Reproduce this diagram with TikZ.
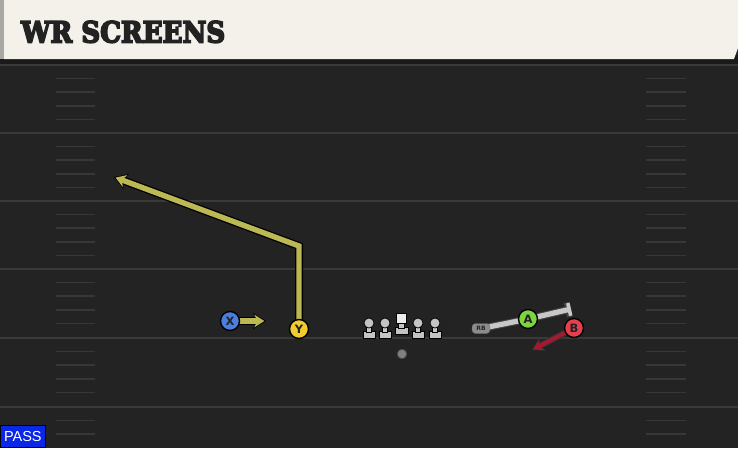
\documentclass[tikz,border=0pt]{standalone}
\usepackage{fontspec}
\setmainfont{DejaVu Sans}
\newfontfamily\titlefont[FakeBold=6]{DejaVu Serif}
\newfontfamily\passfont{Liberation Sans}
\usetikzlibrary{arrows.meta,calc}
\definecolor{fieldbg}{HTML}{232323}
\definecolor{headdark}{HTML}{1A1A1A}
\definecolor{cream}{HTML}{F4F1EA}
\definecolor{stripgray}{HTML}{A8A8A4}
\definecolor{titleink}{HTML}{222222}
\definecolor{linegray}{HTML}{3A3A3A}
\definecolor{hashgray}{HTML}{373737}
\definecolor{xblue}{HTML}{4C7EE0}
\definecolor{yyellow}{HTML}{F2CB2E}
\definecolor{agreen}{HTML}{7CD43F}
\definecolor{bred}{HTML}{E5404E}
\definecolor{routeolive}{HTML}{BCB853}
\definecolor{rbline}{HTML}{C8C8C8}
\definecolor{bdark}{HTML}{A01A30}
\definecolor{olgray}{HTML}{C4C4C4}
\definecolor{passblue}{HTML}{0A26E6}
\pgfdeclarelayer{field}
\pgfdeclarelayer{routes}
\pgfsetlayers{field,routes,main}
\begin{document}
\begin{tikzpicture}[x=1pt,y=-1pt,
  fieldline/.style={draw=linegray,line width=2.4pt},
  hashmark/.style={draw=hashgray,line width=1.6pt},
  player/.style={circle,draw=black,line width=1.4pt,minimum size=19pt,inner sep=0pt,
    font=\bfseries\fontsize{11.5}{11.5}\selectfont,text=titleink},
  routeout/.style={draw=black,line width=8pt,line join=miter},
  routein/.style={draw=routeolive,line width=5.4pt,line join=miter},
  olhead/.style={fill=olgray,draw=black,line width=0.7pt},
  olbody/.style={fill=olgray,draw=black,line width=0.7pt},
  rbtag/.style={draw=black!60,fill=black!45,rounded corners=3.5pt,minimum width=18pt,minimum height=10pt,
    inner sep=0pt,font=\bfseries\fontsize{6}{6}\selectfont,text=black!85}]
\useasboundingbox (0,0) rectangle (738,448);
\begin{pgfonlayer}{field}
\fill[fieldbg] (0,0) rectangle (738,448);
\fill[headdark] (0,55) rectangle (738,64);
\foreach \yy in {65,133,201,269,338,407} {\draw[fieldline] (0,\yy) -- (738,\yy);}
\foreach \yy in {65,133,201,269,338} {
  \foreach \k in {1,2,3,4} {
    \draw[hashmark] (56,\yy+\k*13.6) -- (95,\yy+\k*13.6);
    \draw[hashmark] (646,\yy+\k*13.6) -- (686,\yy+\k*13.6);
  }
}
\foreach \k in {1,2} {
  \draw[hashmark] (56,407+\k*13.6) -- (95,407+\k*13.6);
  \draw[hashmark] (646,407+\k*13.6) -- (686,407+\k*13.6);
}
\fill[cream] (4,0) -- (738,0) -- (738,48) -- (734,59) -- (4,59) -- cycle;
\fill[stripgray] (0,0) rectangle (4,59);
\end{pgfonlayer}

\node[anchor=south west,inner sep=0pt,text=titleink] (title) at (21,43)
  {\resizebox{204pt}{21.5pt}{\titlefont\bfseries WR SCREENS}};

% players
\node[player,fill=xblue] (X) at (230,321) {X};
\node[player,fill=yyellow] (Y) at (299,329) {Y};
\node[player,fill=agreen] (A) at (528,319) {A};
\node[player,fill=bred] (B) at (574,328) {B};
\node[rbtag] (RB) at (481,328.5) {RB};
\node[circle,fill=black!50!white,draw=black!70,line width=0.8pt,minimum size=9.5pt,inner sep=0pt] (QB) at (402,354) {};

\coordinate (Xend) at (266,321);
\coordinate (Ybreak) at (299,246);
\coordinate (Yend) at (114,177);
\coordinate (Aend) at (571,309);
\coordinate (Bend) at (532,350);

\begin{pgfonlayer}{routes}
\draw[routeout,-{Stealth[length=13pt,width=16pt,inset=4pt]}] (X.center) -- (Xend);
\draw[routein,-{Stealth[length=10pt,width=12.5pt,inset=3pt]}] (X.center) -- ([xshift=-1.6pt]Xend);
\draw[routeout,-{Stealth[length=13pt,width=16pt,inset=4pt]}] (Y.center) -- (Ybreak) -- (Yend);
\draw[routein,-{Stealth[length=10pt,width=12.5pt,inset=3pt]}] (Y.center) -- (Ybreak) -- ($(Yend)!1.6pt!(Ybreak)$);
\draw[draw=black!75,line width=7.4pt,-{Bar[width=15pt,line width=6pt]}] (RB.center) -- (A.center) -- (Aend);
\draw[draw=rbline,line width=5.2pt,-{Bar[width=13pt,line width=3.6pt]}] (RB.center) -- (A.center) -- (Aend);
\draw[draw=black!80,line width=6.2pt,-{Stealth[length=12pt,width=14pt,inset=3.5pt]}] (B.center) -- (Bend);
\draw[draw=bdark,line width=4.2pt,-{Stealth[length=9.5pt,width=11.5pt,inset=3pt]}] (B.center) -- ($(Bend)!1.4pt!(B.center)$);
\end{pgfonlayer}

% offensive line
\foreach \lx in {369,385,418,435} {
  \fill[olbody] (\lx-6,331.5) rectangle (\lx+6,338.5);
  \fill[olbody] (\lx-2.8,325) rectangle (\lx+2.8,332);
  \fill[olhead] (\lx,323) circle (5);
}
\fill[olbody] (395,327.5) rectangle (408,334);
\fill[olbody] (398.8,322.5) rectangle (404.2,328);
\fill[fill=white!92!black,draw=black,line width=0.7pt] (396.5,313) rectangle (406.5,323);

% pass tag
\node[fill=passblue,draw=black,line width=0.7pt,anchor=south west,minimum width=45pt,minimum height=22pt,
  inner sep=0pt,text=white,font=\passfont\fontsize{14.5}{14.5}\selectfont] (pass) at (0,448) {PASS};
\end{tikzpicture}
\end{document}
